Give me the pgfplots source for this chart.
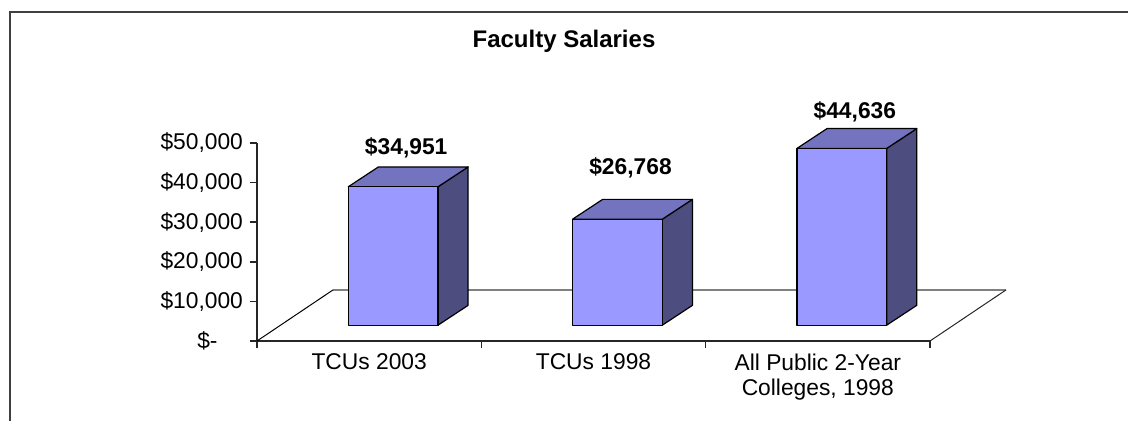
\documentclass[border=0pt]{standalone}
\usepackage{fontspec}
\setmainfont{Liberation Sans}
\usepackage{pgfplots}
\pgfplotsset{compat=1.18}

\definecolor{barFront}{RGB}{153,153,255}
\definecolor{barTop}{RGB}{115,115,191}
\definecolor{barSide}{RGB}{77,77,128}
\definecolor{frameGray}{RGB}{64,64,64}

% 1 px of the reference = 0.5pt here; bars get a fake 3-D look:
% front face lifted by (0.107, 4000), depth (0.134, 5000), floor depth (0.339, 12900)
\begin{document}
\begin{tikzpicture}
\begin{axis}[
    at={(0,0)}, anchor=south west,
    scale only axis, width=336.5pt, height=99pt,
    xmin=-0.5, xmax=2.5, ymin=0, ymax=50000,
    clip=false,
    axis x line*=bottom, axis y line*=left,
    axis line style={black!85, line width=0.8pt},
    tick align=outside, major tick length=3.5pt,
    tick style={black!85, line width=0.8pt},
    xtick={-0.5,0.5,1.5,2.5}, xticklabels={},
    extra x ticks={0,1,2},
    extra x tick labels={{TCUs 2003},{TCUs 1998},{All Public 2-Year\\Colleges, 1998}},
    extra x tick style={major tick length=0pt},
    ytick={0,10000,20000,30000,40000,50000},
    yticklabels={{\$-\hphantom{00}},{\$10,000},{\$20,000},{\$30,000},{\$40,000},{\$50,000}},
    scaled y ticks=false,
    ticklabel style={font=\fontsize{11.4}{12.6}\selectfont},
    xticklabel style={align=center, yshift=-3pt},
]
% floor
\addplot[black!50, line width=0.8pt] coordinates {(-0.161,12900) (2.839,12900)};
\addplot[black, line width=0.5pt] coordinates {(-0.5,0) (-0.161,12900)};
\addplot[black!85, line width=0.5pt] coordinates {(2.5,0) (2.839,12900)};

% TCUs 2003: 34951
\addplot[fill=barSide, draw=black, line width=0.6pt, line join=round] coordinates {(0.307,4000) (0.441,9000) (0.441,43951) (0.307,38951)} -- cycle;
\addplot[fill=barTop, draw=black, line width=0.6pt, line join=round] coordinates {(-0.093,38951) (0.307,38951) (0.441,43951) (0.041,43951)} -- cycle;
\addplot[fill=barFront, draw=black, line width=0.6pt, line join=round] coordinates {(-0.093,4000) (0.307,4000) (0.307,38951) (-0.093,38951)} -- cycle;

% TCUs 1998: 26768
\addplot[fill=barSide, draw=black, line width=0.6pt, line join=round] coordinates {(1.307,4000) (1.441,9000) (1.441,35768) (1.307,30768)} -- cycle;
\addplot[fill=barTop, draw=black, line width=0.6pt, line join=round] coordinates {(0.907,30768) (1.307,30768) (1.441,35768) (1.041,35768)} -- cycle;
\addplot[fill=barFront, draw=black, line width=0.6pt, line join=round] coordinates {(0.907,4000) (1.307,4000) (1.307,30768) (0.907,30768)} -- cycle;

% All Public 2-Year Colleges, 1998: 44636
\addplot[fill=barSide, draw=black, line width=0.6pt, line join=round] coordinates {(2.307,4000) (2.441,9000) (2.441,53636) (2.307,48636)} -- cycle;
\addplot[fill=barTop, draw=black, line width=0.6pt, line join=round] coordinates {(1.907,48636) (2.307,48636) (2.441,53636) (2.041,53636)} -- cycle;
\addplot[fill=barFront, draw=black, line width=0.6pt, line join=round] coordinates {(1.907,4000) (2.307,4000) (2.307,48636) (1.907,48636)} -- cycle;

% value labels
\node[font=\fontsize{11.4}{13}\selectfont\bfseries] at (axis cs:0.165,48733) {\$34,951};
\node[font=\fontsize{11.4}{13}\selectfont\bfseries] at (axis cs:1.165,43683) {\$26,768};
\node[font=\fontsize{11.4}{13}\selectfont\bfseries] at (axis cs:2.165,57823) {\$44,636};
\end{axis}

\node[anchor=base, font=\fontsize{12}{14}\selectfont\bfseries] at (153.5pt,146.5pt) {Faculty Salaries};
\draw[frameGray, line width=1.2pt] (-123.5pt,-45pt) -- (-123.5pt,164.5pt) -- (440pt,164.5pt);

\pgfresetboundingbox
\path[use as bounding box] (-128.5pt,-40pt) rectangle (435.5pt,170.5pt);
\end{tikzpicture}
\end{document}
